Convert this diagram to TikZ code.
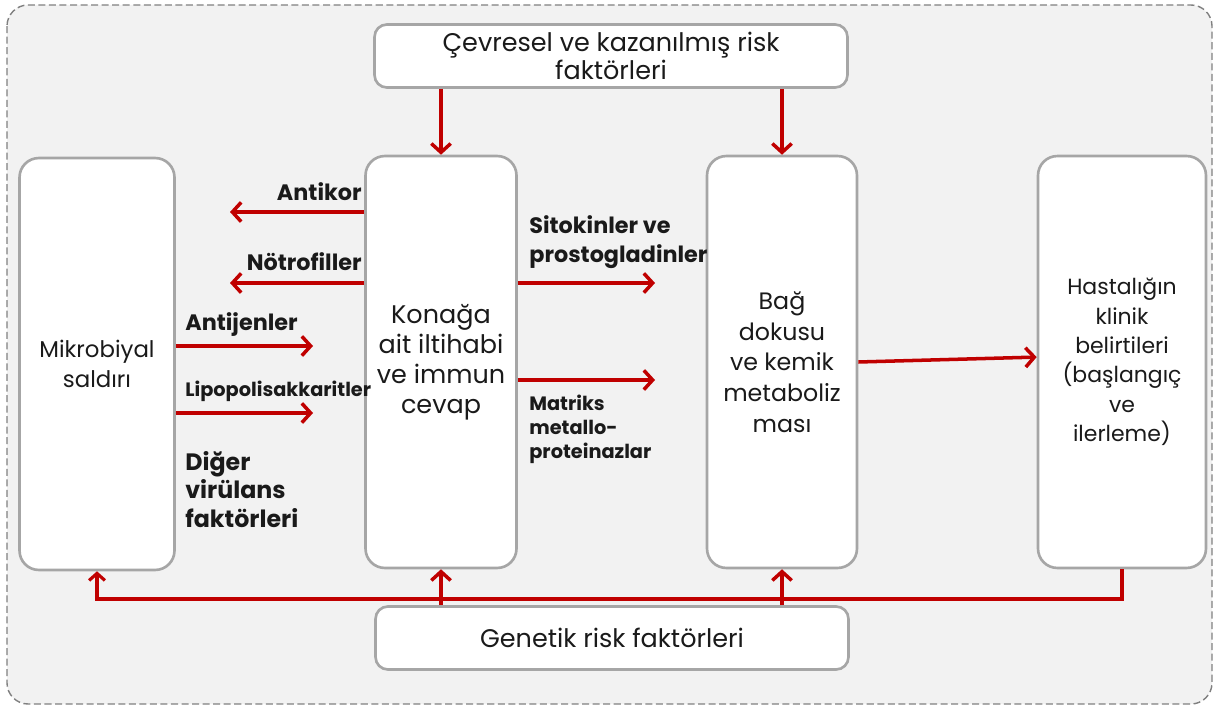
\documentclass[tikz,border=0pt]{standalone}
\usepackage{fontspec}
\setmainfont{Poppins}
\usetikzlibrary{positioning}
\usetikzlibrary{arrows.meta}
\definecolor{kirmizi}{HTML}{C00000}
\definecolor{kenar}{HTML}{A6A6A6}
\definecolor{zemin}{HTML}{F2F2F2}
\definecolor{yazi}{HTML}{1A1A1A}
\tikzset{%
  kutu/.style = {rectangle,draw=kenar,line width=1.5pt,fill=white,
        rounded corners=7pt,text=yazi,align=center,
        font=\fontsize{12}{17}\selectfont},
  uzun/.style = {kutu,minimum height=8.24cm,rounded corners=11pt},
  genis/.style = {kutu,minimum width=9.46cm,minimum height=1.26cm,
        font=\fontsize{14.5}{16}\selectfont},
  etiket/.style = {inner sep=0pt,text=yazi,align=left,
        font=\fontsize{12.7}{16.4}\selectfont\bfseries},
  kucuk/.style = {font=\fontsize{11}{13.6}\selectfont\bfseries},
  okcizgi/.style = {draw=kirmizi,line width=2pt,
        -{Straight Barb[length=5pt,width=11pt]}},
  geriok/.style = {draw=kirmizi,line width=1.8pt,
        -{Straight Barb[length=4pt,width=9pt]}}
}

\begin{document}
\begin{tikzpicture}[x=0.02cm,y=-0.02cm]
   \useasboundingbox (0,0) rectangle (1216,709);
   \draw[draw=gray,fill=zemin,line width=0.8pt,dash pattern=on 4pt off 2pt,
        rounded corners=12pt] (7,5) rectangle (1212,704);

   \node[genis] (cevre) at (611,56) {Çevresel ve kazanılmış risk\\faktörleri};
   \node[uzun,minimum width=3.1cm,font=\fontsize{13}{17}\selectfont]
        (mikrobiyal) at (97,364) {Mikrobiyal\\saldırı};
   \node[uzun,minimum width=3.02cm,font=\fontsize{14.5}{17}\selectfont]
        (konak) at (441,362) {Konağa\\ait iltihabi\\ve immun\\cevap};
   \node[uzun,minimum width=3cm,font=\fontsize{13.5}{17.5}\selectfont]
        (bag) at (782,362) {Bağ\\dokusu\\ve kemik\\metaboliz\\ması};
   \node[uzun,minimum width=3.36cm,font=\fontsize{12.5}{16.7}\selectfont]
        (hastalik) at (1122,362) {Hastalığın\\klinik\\belirtileri\\(başlangıç\\ve\\ilerleme)};
   \node[genis] (genetik) at (612,638) {Genetik risk faktörleri};

   \coordinate (antikor-uc) at (230,212);
   \coordinate (notrofil-uc) at (230,283);
   \coordinate (antijen-uc) at (313,346);
   \coordinate (lipo-uc) at (313,413);
   \coordinate (sitokin-uc) at (655,283);
   \coordinate (matriks-uc) at (655,380);
   \coordinate (geri-hat) at (0,599);

   \node[etiket,anchor=east] (antikor) at (362,192) {Antikor};
   \node[etiket,anchor=east] (notrofil) at (362,262) {Nötrofiller};
   \node[etiket,anchor=west] (antijen) at (185,325) {Antijenler};
   \node[etiket,kucuk,anchor=west] (lipo) at (185,391) {Lipopolisakkaritler};
   \node[etiket,anchor=north west,font=\fontsize{13.5}{16.2}\selectfont\bfseries]
        (diger) at (185,451) {Diğer\\virülans\\faktörleri};
   \node[etiket,anchor=west] (sitokin) at (529,242) {Sitokinler ve\\prostogladinler};
   \node[etiket,kucuk,anchor=north west] (matriks) at (529,395) {Matriks\\metallo-\\proteinazlar};

   \draw[okcizgi] (cevre.south -| konak) -- (konak.north);
   \draw[okcizgi] (cevre.south -| bag) -- (bag.north);
   \draw[okcizgi] (konak.west |- antikor-uc) -- (antikor-uc);
   \draw[okcizgi] (konak.west |- notrofil-uc) -- (notrofil-uc);
   \draw[okcizgi] (mikrobiyal.east |- antijen-uc) -- (antijen-uc);
   \draw[okcizgi] (mikrobiyal.east |- lipo-uc) -- (lipo-uc);
   \draw[okcizgi] (konak.east |- sitokin-uc) -- (sitokin-uc);
   \draw[okcizgi] (konak.east |- matriks-uc) -- (matriks-uc);
   \draw[okcizgi] (bag.east) -- ([yshift=2.8pt]hastalik.west);

   \draw[geriok] (hastalik.south) -- (hastalik.south |- geri-hat)
        -- (mikrobiyal.south |- geri-hat) -- (mikrobiyal.south);
   \draw[okcizgi] (genetik.north -| konak) -- (konak.south);
   \draw[okcizgi] (genetik.north -| bag) -- (bag.south);
\end{tikzpicture}
\end{document}
